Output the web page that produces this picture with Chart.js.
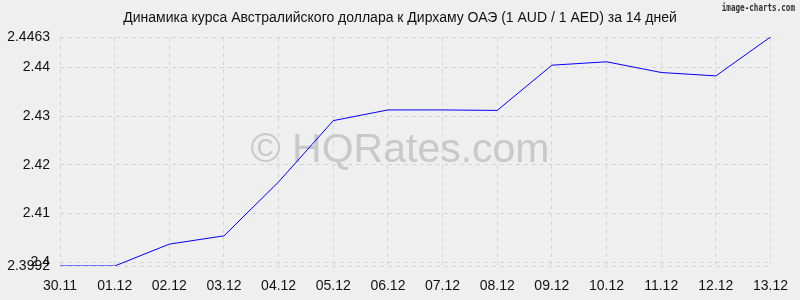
<!DOCTYPE html>
<html>
<head>
<meta charset="utf-8">
<script src="https://cdn.jsdelivr.net/npm/chart.js@4"></script>
<style>
  html, body { margin:0; padding:0; background:#efefef; }
  #wrap { width:800px; height:300px; }
</style>
</head>
<body>
<div id="wrap"><canvas id="rateChart" width="800" height="300"></canvas></div>
<script>
// данные графика
const labels = ['30.11','01.12','02.12','03.12','04.12','05.12','06.12','07.12','08.12','09.12','10.12','11.12','12.12','13.12'];
const rates = [2.3992,2.3992,2.4037,2.4054,2.4165,2.4291,2.4313,2.4313,2.4312,2.4405,2.4412,2.4390,2.4383,2.4463];
const yTicks = [2.3992,2.4,2.41,2.42,2.43,2.44,2.4463];
const chartTitle = 'Динамика курса Австралийского доллара к Дирхаму ОАЭ (1 AUD / 1 AED) за 14 дней';

const FONT = 'Liberation Sans, Arial, sans-serif';

// фон, заголовок и водяные знаки
const decor = {
  id: 'decor',
  beforeDraw(chart) {
    const c = chart.ctx;
    c.save();
    c.fillStyle = '#efefef';
    c.fillRect(0, 0, chart.width, chart.height);
    c.restore();
  },
  beforeDatasetsDraw(chart) {
    const c = chart.ctx;
    c.save();
    c.fillStyle = '#c9c9c9';
    c.font = '41px ' + FONT;
    c.textAlign = 'center';
    c.textBaseline = 'alphabetic';
    c.fillText('© HQRates.com', 400, 162);
    c.restore();
  },
  afterDraw(chart) {
    const c = chart.ctx;
    c.save();
    c.fillStyle = '#111';
    c.font = '14px ' + FONT;
    c.textAlign = 'center';
    c.textBaseline = 'middle';
    c.fillText(chartTitle, 400, 18);
    // подпись сервиса — узкий моноширинный шрифт
    c.fillStyle = '#333';
    c.font = 'bold 10px "DejaVu Sans Mono", monospace';
    c.textAlign = 'right';
    c.translate(795, 8);
    c.scale(0.76, 1);
    c.fillText('image-charts.com', 0, 0);
    c.restore();
  }
};

new Chart(document.getElementById('rateChart'), {
  type: 'line',
  data: {
    labels: labels,
    datasets: [{
      data: rates,
      borderColor: '#0000ff',
      borderWidth: 1,
      pointRadius: 0,
      tension: 0,
      fill: false
    }]
  },
  options: {
    responsive: false,
    animation: false,
    layout: { padding: { top: 37, right: 20, left: 0, bottom: 0 } },
    plugins: { legend: { display: false }, title: { display: false }, tooltip: { enabled: false } },
    scales: {
      x: {
        offset: false,
        grid: { color: '#d4d4d4', drawTicks: false },
        border: { display: false, dash: [4, 4] },
        ticks: { color: '#111', font: { family: FONT, size: 14 }, padding: 12, maxRotation: 0, autoSkip: false },
        afterFit(s) { s.height = 34; }
      },
      y: {
        min: 2.3992,
        max: 2.4463,
        afterBuildTicks(s) { s.ticks = yTicks.map(v => ({ value: v })); },
        grid: { color: '#d4d4d4', drawTicks: false },
        border: { display: false, dash: [4, 4] },
        ticks: {
          color: '#111', font: { family: FONT, size: 14 }, padding: 10,
          callback: v => String(v)
        },
        afterFit(s) { s.width = 60; }
      }
    }
  },
  plugins: [decor]
});
</script>
</body>
</html>
